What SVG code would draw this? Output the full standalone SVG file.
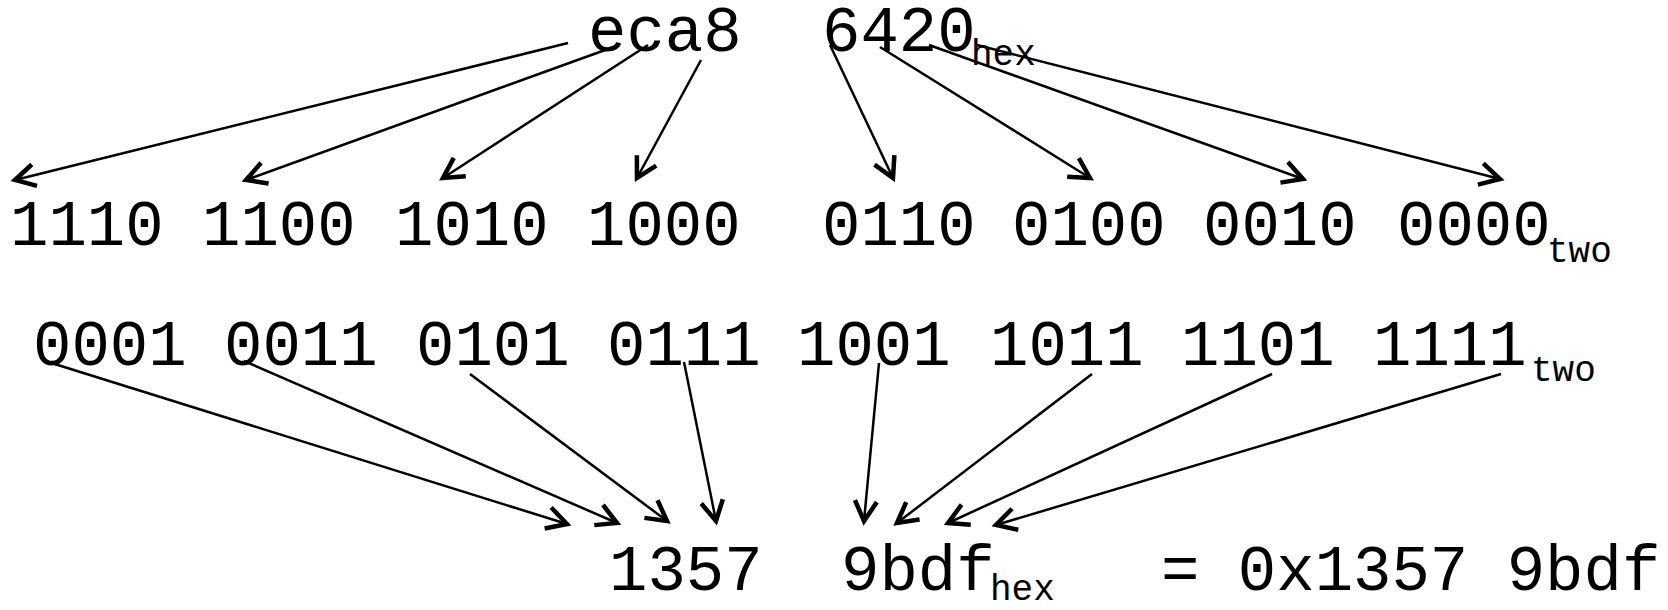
<svg xmlns="http://www.w3.org/2000/svg" width="1668" height="610" viewBox="0 0 1668 610">
  <style>
    .num { font-family: "Liberation Mono", "DejaVu Sans Mono", monospace; font-size: 64px; fill: #000; }
    .sub { font-family: "Liberation Mono", "DejaVu Sans Mono", monospace; font-size: 36px; fill: #000; }
    .arrow { fill: none; stroke: #000; stroke-width: 2.5; marker-end: url(#chevron); }
  </style>
  <defs>
    <marker id="chevron" markerUnits="userSpaceOnUse" markerWidth="40" markerHeight="40" refX="0" refY="0" orient="auto" overflow="visible">
      <path d="M -20 -11 L 0 0 L -20 11" fill="none" stroke="#000" stroke-width="4.5" stroke-linejoin="miter"/>
    </marker>
  </defs>
  <rect width="1668" height="610" fill="#fff"/>

  <!-- hexadecimal source: eca8 6420 -->
  <g id="hex-high"><text class="num" x="588" y="51">eca8</text></g>
  <g id="hex-low"><text class="num" x="822" y="51">6420</text><text class="sub" x="971" y="65">hex</text></g>

  <!-- nibbles in binary -->
  <g id="bin-e"><text class="num" x="10" y="245">1110</text></g>
  <g id="bin-c"><text class="num" x="202" y="245">1100</text></g>
  <g id="bin-a"><text class="num" x="395" y="245">1010</text></g>
  <g id="bin-8"><text class="num" x="587" y="245">1000</text></g>
  <g id="bin-6"><text class="num" x="822" y="245">0110</text></g>
  <g id="bin-4"><text class="num" x="1012" y="245">0100</text></g>
  <g id="bin-2"><text class="num" x="1203" y="245">0010</text></g>
  <g id="bin-0"><text class="num" x="1397" y="245">0000</text><text class="sub" x="1547" y="262">two</text></g>

  <!-- bitwise-inverted nibbles -->
  <g id="inv-1"><text class="num" x="33" y="365">0001</text></g>
  <g id="inv-3"><text class="num" x="224" y="365">0011</text></g>
  <g id="inv-5"><text class="num" x="416" y="365">0101</text></g>
  <g id="inv-7"><text class="num" x="607" y="365">0111</text></g>
  <g id="inv-9"><text class="num" x="797" y="365">1001</text></g>
  <g id="inv-b"><text class="num" x="990" y="365">1011</text></g>
  <g id="inv-d"><text class="num" x="1181" y="365">1101</text></g>
  <g id="inv-f"><text class="num" x="1373" y="365">1111</text><text class="sub" x="1531" y="381">two</text></g>

  <!-- result -->
  <g id="res-high"><text class="num" x="609" y="590">1357</text></g>
  <g id="res-low"><text class="num" x="841" y="590">9bdf</text><text class="sub" x="990" y="600">hex</text></g>
  <g id="res-equals"><text class="num" x="1161" y="590">= 0x1357 9bdf</text></g>

  <g id="connectors">
    <!-- hex digit to binary nibble -->
    <line class="arrow" x1="568" y1="43" x2="15" y2="180"/>
    <line class="arrow" x1="619" y1="45" x2="246" y2="180"/>
    <line class="arrow" x1="648" y1="45" x2="443" y2="178"/>
    <line class="arrow" x1="701" y1="60" x2="637" y2="178"/>
    <line class="arrow" x1="830" y1="45" x2="893" y2="178"/>
    <line class="arrow" x1="880" y1="47" x2="1090" y2="178"/>
    <line class="arrow" x1="929" y1="45" x2="1303" y2="179"/>
    <line class="arrow" x1="977" y1="45" x2="1500" y2="179"/>
    <!-- inverted nibble to hex digit -->
    <line class="arrow" x1="45" y1="361" x2="567" y2="524"/>
    <line class="arrow" x1="244" y1="361" x2="617" y2="523"/>
    <line class="arrow" x1="470" y1="374" x2="667" y2="521"/>
    <line class="arrow" x1="684" y1="362" x2="716" y2="521"/>
    <line class="arrow" x1="879" y1="363" x2="864" y2="521"/>
    <line class="arrow" x1="1092" y1="374" x2="897" y2="523"/>
    <line class="arrow" x1="1272" y1="374" x2="948" y2="523"/>
    <line class="arrow" x1="1501" y1="374" x2="996" y2="525"/>
  </g>
</svg>
